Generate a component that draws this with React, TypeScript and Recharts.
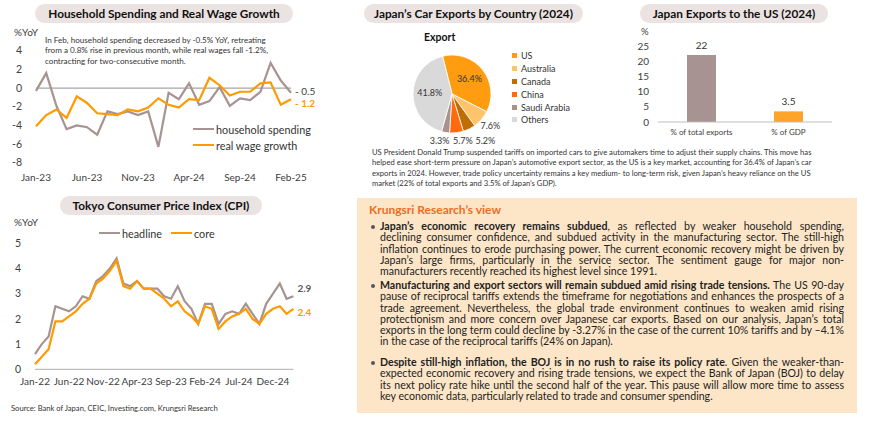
import React from 'react';
import {
  LineChart, Line, XAxis, YAxis, ReferenceLine,
  PieChart, Pie, Cell, BarChart, Bar, LabelList,
} from 'recharts';

const FONT = 'Lato, "Open Sans", sans-serif';
const GREY = '#A79391';
const ORANGE = '#FF9A00';
const AXIS = '#404040';

// Household spending vs real wages (%YoY)
const spendMonths = [
  'Jan-23', 'Feb-23', 'Mar-23', 'Apr-23', 'May-23', 'Jun-23', 'Jul-23', 'Aug-23', 'Sep-23',
  'Oct-23', 'Nov-23', 'Dec-23', 'Jan-24', 'Feb-24', 'Mar-24', 'Apr-24', 'May-24', 'Jun-24',
  'Jul-24', 'Aug-24', 'Sep-24', 'Oct-24', 'Nov-24', 'Dec-24', 'Jan-25', 'Feb-25',
];
const householdSpending = [
  -0.3, 1.6, -1.9, -4.4, -4.0, -4.2, -5.0, -2.5, -2.8, -2.5, -2.9, -2.5, -6.3,
  -0.5, -1.2, 0.5, -1.8, -1.4, 0.1, -1.9, -1.1, -1.3, -0.4, 2.7, 0.8, -0.5,
];
const realWage = [
  -4.1, -2.9, -2.3, -3.2, -0.9, -1.6, -2.7, -2.8, -2.9, -2.3, -2.5, -2.1, -1.1,
  -1.8, -2.1, -1.2, -1.3, 1.1, 0.3, -0.8, -0.4, -0.4, 0.5, 0.6, -1.8, -1.2,
];
const spendTicks = [-8, -6, -4, -2, 0, 2, 4];

// Tokyo CPI (%YoY)
const cpiMonths = [
  'Jan-22', 'Feb-22', 'Mar-22', 'Apr-22', 'May-22', 'Jun-22', 'Jul-22', 'Aug-22', 'Sep-22', 'Oct-22',
  'Nov-22', 'Dec-22', 'Jan-23', 'Feb-23', 'Mar-23', 'Apr-23', 'May-23', 'Jun-23', 'Jul-23', 'Aug-23',
  'Sep-23', 'Oct-23', 'Nov-23', 'Dec-23', 'Jan-24', 'Feb-24', 'Mar-24', 'Apr-24', 'May-24', 'Jun-24',
  'Jul-24', 'Aug-24', 'Sep-24', 'Oct-24', 'Nov-24', 'Dec-24', 'Jan-25', 'Feb-25', 'Mar-25',
];
const cpiHeadline = [
  0.6, 1.0, 1.3, 2.5, 2.4, 2.3, 2.5, 2.9, 2.8, 3.5, 3.7, 4.0, 4.4, 3.4, 3.3, 3.5, 3.2, 3.2, 3.2, 2.9,
  2.8, 3.3, 2.7, 2.4, 1.8, 2.6, 2.6, 1.8, 2.2, 2.3, 2.2, 2.6, 2.2, 1.8, 2.6, 3.0, 3.4, 2.8, 2.9,
];
const cpiCore = [
  0.2, 0.5, 0.8, 1.9, 1.9, 2.1, 2.3, 2.6, 2.8, 3.4, 3.6, 3.9, 4.3, 3.3, 3.2, 3.5, 3.2, 3.2, 3.0, 2.8,
  2.5, 2.7, 2.3, 2.1, 1.8, 2.5, 2.4, 1.6, 1.9, 2.1, 2.2, 2.4, 2.0, 1.8, 2.2, 2.4, 2.5, 2.2, 2.4,
];
const cpiTicks = [0, 1, 2, 3, 4, 5];

// Car exports by destination, 2024 (%)
const carCountries = ['US', 'Australia', 'Canada', 'China', 'Saudi Arabia', 'Others'];
const carShares = [36.4, 7.6, 5.2, 5.7, 3.3, 41.8];
const carColors = ['#FF9C0F', '#FFC36B', '#BE6E04', '#FF6A0D', '#A8918F', '#D9D9D9'];

// Exports to the US, 2024 (%)
const usCategories = ['% of total exports', '% of GDP'];
const usValues = [22, 3.5];
const usColors = ['#A79391', '#FFA42A'];
const usTicks = [0, 5, 10, 15, 20, 25];

const spendData = spendMonths.map((m, i) => ({ month: m, household: householdSpending[i], wage: realWage[i] }));
const cpiData = cpiMonths.map((m, i) => ({ month: m, headline: cpiHeadline[i], core: cpiCore[i] }));
const pieData = carCountries.map((c, i) => ({ name: c, value: carShares[i] }));
const barData = usCategories.map((c, i) => ({ name: c, value: usValues[i] }));

const noteLines = [
  'In Feb, household spending decreased by -0.5% YoY, retreating',
  'from a 0.8% rise in previous month, while real wages fall -1.2%,',
  'contracting for two-consecutive month.',
];

const tariffLines = [
  'US President Donald Trump suspended tariffs on imported cars to give automakers time to adjust their supply chains. This move has',
  'helped ease short-term pressure on Japan’s automotive export sector, as the US is a key market, accounting for 36.4% of Japan’s car',
  'exports in 2024. However, trade policy uncertainty remains a key medium- to long-term risk, given Japan’s heavy reliance on the US',
  'market (22% of total exports and 3.5% of Japan’s GDP).',
];

type Ln = { b?: string; t: string };
const views: Ln[][] = [
  [
    { b: 'Japan’s economic recovery remains subdued', t: ', as reflected by weaker household spending,' },
    { t: 'declining consumer confidence, and subdued activity in the manufacturing sector. The still-high' },
    { t: 'inflation continues to erode purchasing power. The current economic recovery might be driven by' },
    { t: 'Japan’s large firms, particularly in the service sector. The sentiment gauge for major non-' },
    { t: 'manufacturers recently reached its highest level since 1991.' },
  ],
  [
    { b: 'Manufacturing and export sectors will remain subdued amid rising trade tensions.', t: ' The US 90-day' },
    { t: 'pause of reciprocal tariffs extends the timeframe for negotiations and enhances the prospects of a' },
    { t: 'trade agreement. Nevertheless, the global trade environment continues to weaken amid rising' },
    { t: 'protectionism and more concern over Japanese car exports. Based on our analysis, Japan’s total' },
    { t: 'exports in the long term could decline by -3.27% in the case of the current 10% tariffs and by –4.1%' },
    { t: 'in the case of the reciprocal tariffs (24% on Japan).' },
  ],
  [
    { b: 'Despite still-high inflation, the BOJ is in no rush to raise its policy rate', t: '. Given the weaker-than-' },
    { t: 'expected economic recovery and rising trade tensions, we expect the Bank of Japan (BOJ) to delay' },
    { t: 'its next policy rate hike until the second half of the year. This pause will allow more time to assess' },
    { t: 'key economic data, particularly related to trade and consumer spending.' },
  ],
];
const viewTops = [221, 280, 357];

const fmtSigned = (v: number) => (v < 0 ? `- ${Math.abs(v).toFixed(1)}` : v.toFixed(1));

function endLabel(last: number, color: string, bold: boolean, dy: number) {
  return (props: any) => {
    const { x, y, value, index } = props;
    if (index !== last) return <g />;
    return (
      <text x={x + 4} y={y + dy} fill={color} fontSize={10} fontWeight={bold ? 700 : 400}
        fontFamily={FONT} dominantBaseline="middle">
        {fmtSigned(value)}
      </text>
    );
  };
}

function Title({ text, left, top, width }: { text: string; left: number; top: number; width: number }) {
  return (
    <div style={{
      position: 'absolute', left, top, width, height: 19, borderRadius: 10, background: '#EBE3E2',
      textAlign: 'center', lineHeight: '19px', fontWeight: 700, fontSize: 11.8, color: '#111',
    }}>{text}</div>
  );
}

function Abs({ left, top, children, style }: any) {
  return <div style={{ position: 'absolute', left, top, whiteSpace: 'nowrap', ...style }}>{children}</div>;
}

function LegendLine({ left, top, color, label }: { left: number; top: number; color: string; label: string }) {
  return (
    <div style={{ position: 'absolute', left, top: top - 6, height: 12, display: 'flex', alignItems: 'center', fontSize: 10.8, color: '#333' }}>
      <span style={{ display: 'inline-block', width: 21, height: 2.5, background: color, marginRight: 2 }} />
      {label}
    </div>
  );
}

function renderPieLabel(props: any) {
  const { cx, cy, midAngle, outerRadius, value, index } = props;
  const RAD = Math.PI / 180;
  const inside = value > 20;
  const nudge = [0, 0, 11, 5, -4, 0][index] || 0;
  const r = inside ? outerRadius * 0.57 : outerRadius * 1.3;
  const x = cx + r * Math.cos(-midAngle * RAD) + nudge;
  let y = cy + r * Math.sin(-midAngle * RAD);
  if (!inside && y > cy + outerRadius) y = cy + outerRadius + 9;
  return (
    <text x={x} y={y} fill="#333" fontSize={9} fontFamily={FONT} textAnchor="middle" dominantBaseline="middle">
      {value.toFixed(1)}%
    </text>
  );
}

export default function App() {
  return (
    <div style={{
      position: 'absolute', left: 0, top: 0, width: 870, height: 430, background: '#fff',
      fontFamily: FONT, color: '#222', overflow: 'hidden',
    }}>
      {/* Household spending & real wage */}
      <Title text="Household Spending and Real Wage Growth" left={35} top={4} width={258} />
      <Abs left={14} top={26} style={{ fontSize: 10, color: AXIS }}>%YoY</Abs>
      <div style={{ position: 'absolute', left: 0, top: 30 }}>
        <LineChart width={320} height={160} data={spendData} margin={{ top: 20.7, right: 29, left: 0, bottom: 0 }}>
          <XAxis dataKey="month" interval={4} axisLine={false} tickLine={false} height={27.3} fontSize={10}
            tick={{ fontSize: 10, fill: AXIS, fontFamily: FONT }} tickMargin={5} />
          <YAxis domain={[-8, 4]} ticks={spendTicks} interval={0} minTickGap={0} width={36} axisLine={false} tickLine={false}
            fontSize={10.5} tick={{ fontSize: 10.5, fill: AXIS, fontFamily: FONT }} tickMargin={8} />
          <ReferenceLine y={0} stroke="#A6A6A6" strokeWidth={1.2} />
          <Line dataKey="household" stroke={GREY} strokeWidth={2.2} dot={false} isAnimationActive={false}
            label={endLabel(spendMonths.length - 1, '#404040', false, 0)} />
          <Line dataKey="wage" stroke={ORANGE} strokeWidth={2.2} dot={false} isAnimationActive={false}
            label={endLabel(spendMonths.length - 1, ORANGE, true, 5)} />
        </LineChart>
      </div>
      <div style={{ position: 'absolute', left: 45, top: 35, fontSize: 8.1, lineHeight: '10.3px', color: '#333', whiteSpace: 'nowrap' }}>
        {noteLines.map((l) => <div key={l}>{l}</div>)}
      </div>
      <LegendLine left={193} top={129} color={GREY} label="household spending" />
      <LegendLine left={193} top={145} color={ORANGE} label="real wage growth" />

      {/* Tokyo CPI */}
      <Title text="Tokyo Consumer Price Index (CPI)" left={60} top={196} width={202} />
      <Abs left={14} top={216} style={{ fontSize: 10, color: AXIS }}>%YoY</Abs>
      <div style={{ position: 'absolute', left: 0, top: 225 }}>
        <LineChart width={320} height={170} data={cpiData} margin={{ top: 18.3, right: 26.6, left: 0, bottom: 0 }}>
          <XAxis dataKey="month" interval={4} axisLine={{ stroke: '#BFBFBF', strokeWidth: 1.2 }} tickLine={false} height={25.7}
            fontSize={10} tick={{ fontSize: 10, fill: AXIS, fontFamily: FONT }} tickMargin={3} />
          <YAxis domain={[0, 5]} ticks={cpiTicks} interval={0} minTickGap={0} width={35} axisLine={false} tickLine={false}
            fontSize={10.5} tick={{ fontSize: 10.5, fill: AXIS, fontFamily: FONT }} tickMargin={8} />
          <Line dataKey="headline" stroke={GREY} strokeWidth={2.2} dot={false} isAnimationActive={false}
            label={endLabel(cpiMonths.length - 1, '#595959', true, -7)} />
          <Line dataKey="core" stroke={ORANGE} strokeWidth={2.2} dot={false} isAnimationActive={false}
            label={endLabel(cpiMonths.length - 1, ORANGE, true, 5)} />
        </LineChart>
      </div>
      <LegendLine left={99} top={233} color={GREY} label="headline" />
      <LegendLine left={171} top={233} color={ORANGE} label="core" />
      <Abs left={11} top={403} style={{ fontSize: 7.6, color: '#333' }}>
        Source: Bank of Japan, CEIC, Investing.com, Krungsri Research
      </Abs>

      {/* Car exports pie */}
      <Title text="Japan’s Car Exports by Country (2024)" left={364} top={4} width={219} />
      <Abs left={424} top={31} style={{ fontSize: 10.5, fontWeight: 700, color: '#111' }}>Export</Abs>
      <div style={{ position: 'absolute', left: 385, top: 40 }}>
        <PieChart width={130} height={110}>
          <Pie data={pieData} dataKey="value" nameKey="name" cx={62} cy={49} outerRadius={39}
            startAngle={104} endAngle={-256} stroke="#fff" strokeWidth={0.8}
            isAnimationActive={false} labelLine={false} label={renderPieLabel}>
            {pieData.map((d, i) => <Cell key={d.name} fill={carColors[i]} />)}
          </Pie>
        </PieChart>
      </div>
      <div style={{ position: 'absolute', left: 512, top: 49 }}>
        {carCountries.map((c, i) => (
          <div key={c} style={{ height: 12.9, display: 'flex', alignItems: 'center', fontSize: 9, color: '#333' }}>
            <span style={{ display: 'inline-block', width: 5, height: 5, background: carColors[i], marginRight: 4 }} />
            {c}
          </div>
        ))}
      </div>

      {/* Exports to US bar */}
      <Title text="Japan Exports to the US (2024)" left={640} top={4} width={188} />
      <Abs left={641} top={26} style={{ fontSize: 9.5, color: AXIS }}>%</Abs>
      <div style={{ position: 'absolute', left: 610, top: 25 }}>
        <BarChart width={240} height={120} data={barData} margin={{ top: 21, right: 18, left: 0, bottom: 0 }}>
          <XAxis dataKey="name" interval={0} axisLine={{ stroke: '#BFBFBF' }} tickLine={false} height={23}
            fontSize={8} tick={{ fontSize: 8, fill: AXIS, fontFamily: FONT }} tickMargin={1} />
          <YAxis domain={[0, 25]} ticks={usTicks} width={48} axisLine={false} tickLine={false} tick={false} />
          {usTicks.map((t) => (
            <ReferenceLine key={t} y={t} stroke="none"
              label={{ value: t, position: 'left', offset: 9, fontSize: 10, fill: AXIS, fontFamily: FONT }} />
          ))}
          <Bar dataKey="value" barSize={29} isAnimationActive={false}>
            {barData.map((d, i) => <Cell key={d.name} fill={usColors[i]} />)}
            <LabelList dataKey="value" position="top" offset={6} fontSize={10} fill="#333" fontFamily={FONT} />
          </Bar>
        </BarChart>
      </div>

      {/* Commentary */}
      <div style={{ position: 'absolute', left: 372, top: 147, fontSize: 7.65, lineHeight: '10.3px', color: '#333', whiteSpace: 'nowrap' }}>
        {tariffLines.map((l) => <div key={l}>{l}</div>)}
      </div>

      <div style={{ position: 'absolute', left: 357, top: 198, width: 500, height: 215, background: '#FDE6C8' }} />
      <Abs left={369} top={202} style={{ fontSize: 12, fontWeight: 700, color: '#F26B21' }}>Krungsri Research’s view</Abs>
      {views.map((lines, bi) => (
        <div key={bi} style={{ position: 'absolute', left: 380, top: viewTops[bi], width: 464, fontSize: 10.6, lineHeight: '11.3px', color: '#222' }}>
          <span style={{ position: 'absolute', left: -9, top: 4, width: 4, height: 4, borderRadius: 2, background: '#555' }} />
          {lines.map((ln, li) => {
            const last = li === lines.length - 1;
            return (
              <div key={li} style={{
                whiteSpace: 'nowrap', textAlign: last ? 'left' : 'justify',
                textAlignLast: last ? 'left' : 'justify',
              } as React.CSSProperties}>
                {ln.b ? <b>{ln.b}</b> : null}{ln.t}
              </div>
            );
          })}
        </div>
      ))}
    </div>
  );
}
